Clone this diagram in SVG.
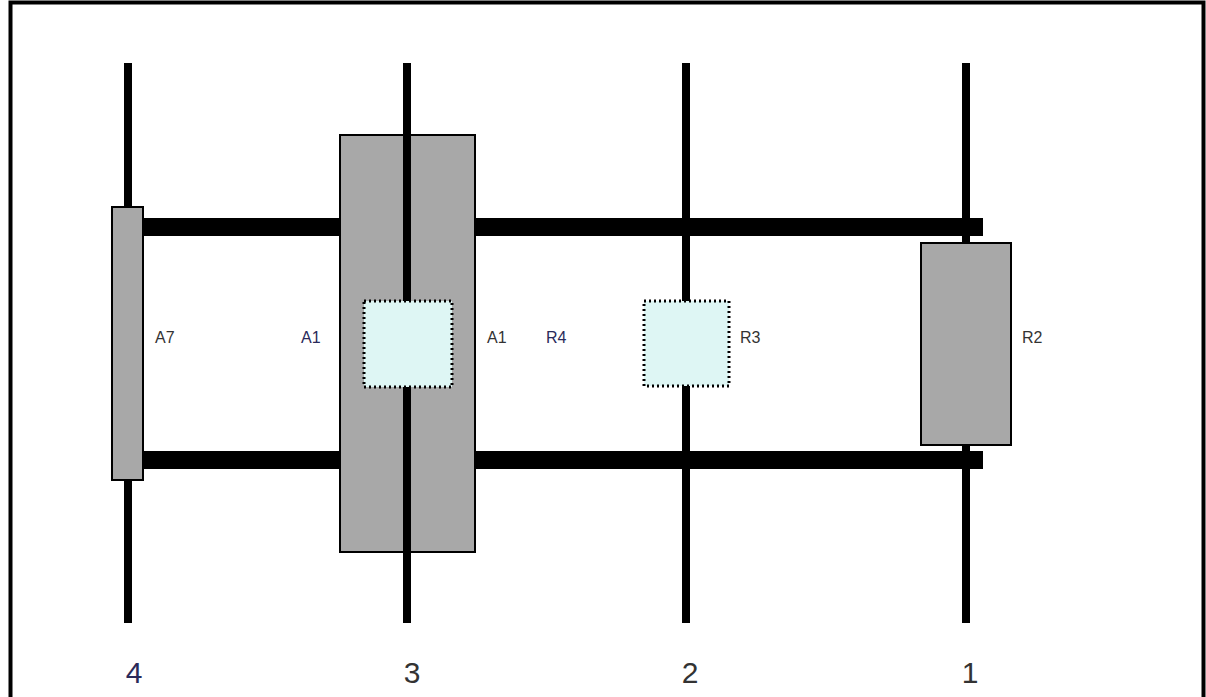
<svg xmlns="http://www.w3.org/2000/svg" width="1206" height="697" viewBox="0 0 1206 697">
<style>
.axis{stroke:#000;stroke-width:8;fill:none}
.bar{stroke:#000;stroke-width:18;fill:none}
.gray{fill:#a8a8a8;stroke:#000;stroke-width:2}
.dot{fill:#def6f4;stroke:#000;stroke-width:3;stroke-dasharray:2 3}
.lbl{font-family:"Liberation Sans",Arial,sans-serif;font-size:16px;fill:#333}
.lblb{font-family:"Liberation Sans",Arial,sans-serif;font-size:16px;fill:#2a2a5a}
.num{font-family:"Liberation Sans",Arial,sans-serif;font-size:30px;fill:#333;text-anchor:middle}
</style>
<rect x="0" y="0" width="1206" height="697" fill="#fff"/>
<path d="M10.5,710 V2.5 H1203.5 V710" fill="none" stroke="#000" stroke-width="4"/>
<g id="connectors">
<line class="axis" x1="128" y1="63" x2="128" y2="623"/>
<line class="axis" x1="407" y1="63" x2="407" y2="623"/>
<line class="axis" x1="686" y1="63" x2="686" y2="623"/>
<line class="axis" x1="966" y1="63" x2="966" y2="623"/>
<line class="bar" x1="112" y1="227" x2="983" y2="227"/>
<line class="bar" x1="112" y1="460" x2="983" y2="460"/>
</g>
<g id="A7"><rect class="gray" x="112" y="207" width="31" height="273"/><text class="lbl" x="155" y="343">A7</text></g>
<g id="A1block"><rect class="gray" x="340" y="135" width="135" height="417"/><line class="axis" x1="407" y1="135" x2="407" y2="552"/></g>
<g id="A1"><rect class="dot" x="364" y="301" width="88" height="86"/><text class="lblb" x="301" y="343">A1</text><text class="lbl" x="487" y="343">A1</text></g>
<g id="R4"><text class="lblb" x="546" y="343">R4</text></g>
<g id="R3"><rect class="dot" x="644" y="301" width="85" height="85"/><text class="lbl" x="740" y="343">R3</text></g>
<g id="R2"><rect class="gray" x="921" y="243" width="90" height="202"/><text class="lbl" x="1022" y="343">R2</text></g>
<g id="labels">
<text class="num" x="134" y="683" style="fill:#2a2a5a">4</text>
<text class="num" x="412" y="683">3</text>
<text class="num" x="690" y="683">2</text>
<text class="num" x="970" y="683">1</text>
</g>
</svg>
